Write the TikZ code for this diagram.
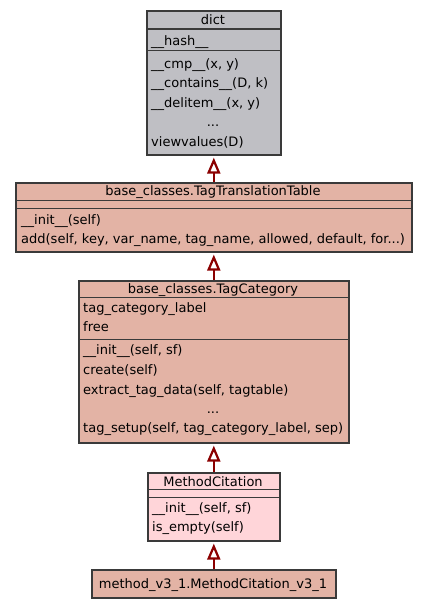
\documentclass[tikz,border=0pt]{standalone}
\usepackage{fontspec}
\setmainfont{DejaVu Sans}
\usetikzlibrary{
  arrows.meta,
  positioning
}
\definecolor{clsGray}{HTML}{BFBFC4}
\definecolor{clsBase}{HTML}{E3B3A5}
\definecolor{clsHit}{HTML}{FFD5D9}
\definecolor{clsLine}{HTML}{3A3A3A}
\definecolor{clsEdge}{HTML}{8B0000}
\tikzset{
  clsbox/.style={
    draw=clsLine, line width=1.6pt, rectangle, inner sep=0pt, anchor=north west
  },
  sepline/.style={draw=clsLine, line width=1.8pt},
  member/.style={font=\fontsize{13}{15}\selectfont, inner sep=0pt, anchor=base west},
  cname/.style={member, anchor=base},
  inherit/.style={-{Triangle[open, length=16pt, width=13pt]}, line width=2.2pt, draw=clsEdge, shorten >=2pt}
}

\begin{document}
\begin{tikzpicture}[x=1pt, y=-1pt]
  \useasboundingbox (0,0) rectangle (427,608);
  \fill[white] (0,0) rectangle (427,608);
  % dict
  \node[clsbox, fill=clsGray, minimum width=134pt, minimum height=144pt] (dict) at (146,10) {};
  \draw[sepline] ([yshift=-19pt]dict.north west) -- ([yshift=-19pt]dict.north east);
  \draw[sepline] ([yshift=-40.5pt]dict.north west) -- ([yshift=-40.5pt]dict.north east);
  \node[cname] (dictT) at (213,24) {dict};
  \node[member] (dictA) at (151,45) {\_\_hash\_\_};
  \foreach \y/\t [count=\i] in {{68/\_\_cmp\_\_(x, y)}, {87.5/\_\_contains\_\_(D, k)}, {107/\_\_delitem\_\_(x, y)}, {146/viewvalues(D)}}{
    \node[member] (dictM\i) at (151,\y) {\t};
  }
  \node[cname] (dictD) at (213,126.5) {...};
  % base_classes.TagTranslationTable
  \node[clsbox, fill=clsBase, minimum width=396pt, minimum height=69pt] (ttt) at (15,182) {};
  \draw[sepline] ([yshift=-18.5pt]ttt.north west) -- ([yshift=-18.5pt]ttt.north east);
  \draw[sepline] ([yshift=-26.5pt]ttt.north west) -- ([yshift=-26.5pt]ttt.north east);
  \node[cname] (tttT) at (213,195.5) {base\_classes.TagTranslationTable};
  \node[member] (tttM1) at (21,224) {\_\_init\_\_(self)};
  \node[member] (tttM2) at (21,243.5) {add(self, key, var\_name, tag\_name, allowed, default, for...)};
  % base_classes.TagCategory
  \node[clsbox, fill=clsBase, minimum width=270pt, minimum height=162pt] (tcat) at (78,280) {};
  \draw[sepline] ([yshift=-17.5pt]tcat.north west) -- ([yshift=-17.5pt]tcat.north east);
  \draw[sepline] ([yshift=-59.5pt]tcat.north west) -- ([yshift=-59.5pt]tcat.north east);
  \node[cname] (tcatT) at (213,293.5) {base\_classes.TagCategory};
  \foreach \y/\t [count=\i] in {{312/tag\_category\_label}, {331/free}}{
    \node[member] (tcatA\i) at (83,\y) {\t};
  }
  \foreach \y/\t [count=\i] in {{354.5/\_\_init\_\_(self, sf)}, {374/create(self)}, {394/extract\_tag\_data(self, tagtable)}, {432.5/tag\_setup(self, tag\_category\_label, sep)}}{
    \node[member] (tcatM\i) at (83,\y) {\t};
  }
  \node[cname] (tcatD) at (213,413.5) {...};
  % MethodCitation
  \node[clsbox, fill=clsHit, minimum width=132pt, minimum height=68pt] (mcit) at (147,472) {};
  \draw[sepline] ([yshift=-17.5pt]mcit.north west) -- ([yshift=-17.5pt]mcit.north east);
  \draw[sepline] ([yshift=-25.5pt]mcit.north west) -- ([yshift=-25.5pt]mcit.north east);
  \node[cname] (mcitT) at (213,486) {MethodCitation};
  \foreach \y/\t [count=\i] in {{512.5/\_\_init\_\_(self, sf)}, {531.5/is\_empty(self)}}{
    \node[member] (mcitM\i) at (152,\y) {\t};
  }
  % method_v3_1.MethodCitation_v3_1
  \node[clsbox, fill=clsBase, minimum width=244pt, minimum height=28pt] (mv31) at (91,569) {};
  \node[cname] (mv31T) at (213,588) {method\_v3\_1.MethodCitation\_v3\_1};
  % inheritance
  \draw[inherit] (ttt.north) -- (dict.south);
  \draw[inherit] (tcat.north) -- (ttt.south);
  \draw[inherit] (mcit.north) -- (tcat.south);
  \draw[inherit] (mv31.north) -- (mcit.south);
\end{tikzpicture}
\end{document}
